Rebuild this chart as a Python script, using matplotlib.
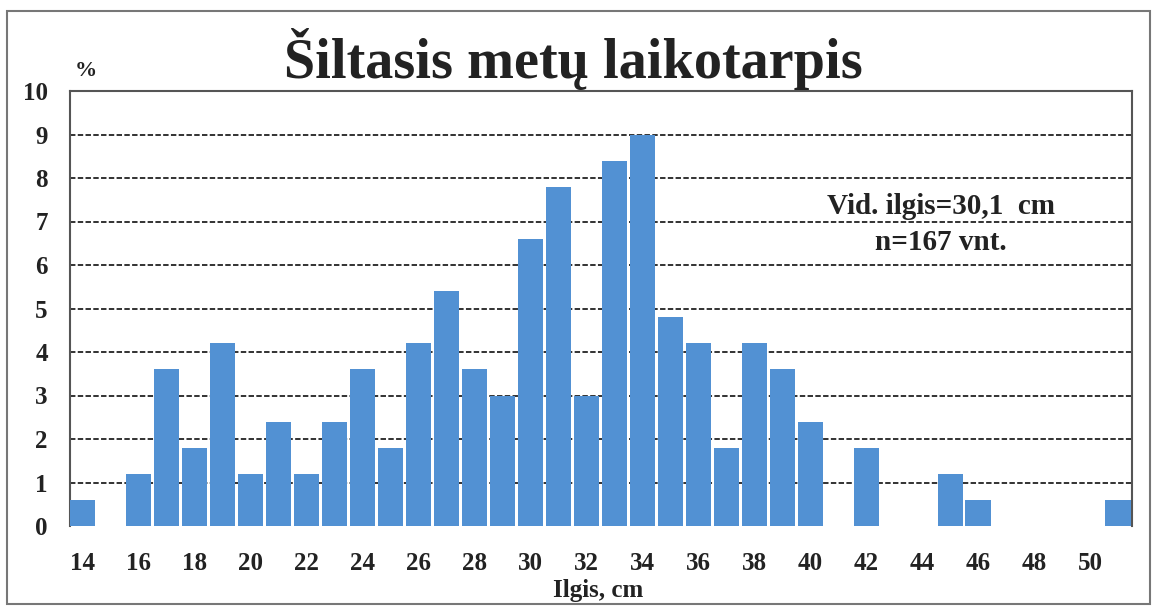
import matplotlib
matplotlib.use("Agg")
import matplotlib.pyplot as plt
from matplotlib.patches import Rectangle

# Data
lengths = list(range(14, 52))
percent = [0.6, 0.0, 1.2, 3.6, 1.8, 4.2, 1.2, 2.4, 1.2, 2.4,
           3.6, 1.8, 4.2, 5.4, 3.6, 3.0, 6.6, 7.8, 3.0, 8.4,
           9.0, 4.8, 4.2, 1.8, 4.2, 3.6, 2.4, 0.0, 1.8, 0.0,
           0.0, 1.2, 0.6, 0.0, 0.0, 0.0, 0.0, 0.6]
xticks = list(range(14, 52, 2))
yticks = list(range(0, 11))
title = "Šiltasis metų laikotarpis"
xlabel = "Ilgis, cm"
ylabel = "%"
note_lines = ["Vid. ilgis=30,1  cm", "n=167 vnt."]

W, H = 1158, 607
fig = plt.figure(figsize=(W / 100, H / 100), dpi=100)
serif = ["Liberation Serif", "DejaVu Serif"]

ax = fig.add_axes([70 / W, 1 - 526 / H, (1132 - 70) / W, (526 - 91) / H])

ax.bar(lengths, percent, width=0.9, color="#5291D3", zorder=3)

ax.set_xlim(13.55, 51.5)
ax.set_ylim(0, 10)
ax.set_xticks(xticks)
ax.set_yticks(yticks)
ax.tick_params(length=0)
ax.tick_params(axis="x", pad=19)
ax.tick_params(axis="y", pad=16)
for lab in ax.get_xticklabels() + ax.get_yticklabels():
    lab.set_family(serif)
    lab.set_fontweight("bold")
    lab.set_fontsize(18)
    lab.set_color("#222222")

for y in yticks[1:]:
    ax.axhline(y, color="#222222", lw=1.3, ls=(0, (3.0, 1.3)), zorder=1)

for side in ["left", "right", "top"]:
    ax.spines[side].set_color("#555555")
    ax.spines[side].set_linewidth(1.5)
ax.spines["bottom"].set_visible(False)

fig.text(573 / W, 1 - 78 / H, title, ha="center", va="baseline",
         family=serif, fontweight="bold", fontsize=40.5, color="#222222")
fig.text(86 / W, 1 - 71 / H, ylabel, ha="center", va="center",
         family=serif, fontweight="bold", fontsize=16, color="#222222")
fig.text(598 / W, 1 - 590 / H, xlabel, ha="center", va="center",
         family=serif, fontweight="bold", fontsize=18, color="#222222")
fig.text(941 / W, 1 - 207 / H, note_lines[0], ha="center", va="center",
         family=serif, fontweight="bold", fontsize=21, color="#222222")
fig.text(941 / W, 1 - 243 / H, note_lines[1], ha="center", va="center",
         family=serif, fontweight="bold", fontsize=21, color="#222222")

fig.patches.append(Rectangle((7 / W, 3 / H), (1150 - 7) / W, (600 - 7) / H,
                             transform=fig.transFigure, fill=False,
                             edgecolor="#777777", lw=1.5))

fig.savefig("out.png", dpi=100)
